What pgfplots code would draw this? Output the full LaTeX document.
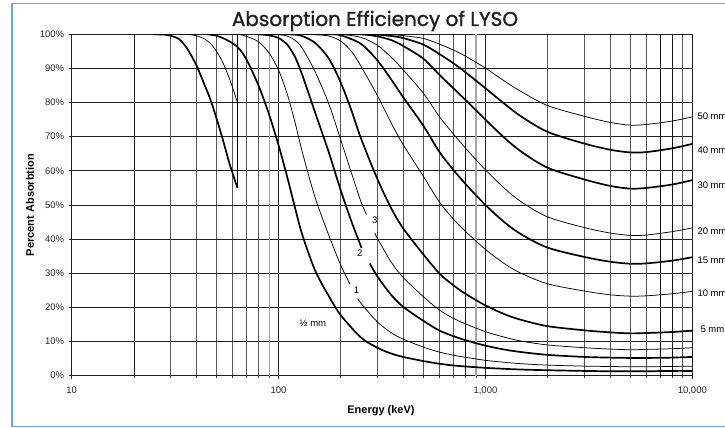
\documentclass[border=0pt]{standalone}
\usepackage{fontspec}
\setmainfont{Liberation Sans}
\newfontfamily\titlefont[FakeBold=1.2]{Poppins}
\usepackage{pgfplots}
\pgfplotsset{compat=1.18}
\definecolor{frameblue}{RGB}{95,170,220}
\begin{document}
\begin{tikzpicture}[x=1pt,y=1pt]
\draw[frameblue, line width=1.3pt] (12,1.2) rectangle (760,424.7);
\begin{axis}[
  at={(71.7pt,52.3pt)}, anchor=south west,
  width=620.6pt, height=341.4pt, scale only axis,
  xmode=log, xmin=10, xmax=10000, ymin=0, ymax=100,
  xtick={10,100,1000,10000}, xticklabels={10,100,{1,000},{10,000}},
  minor xtick={20,30,40,50,60,70,80,90,200,300,400,500,600,700,800,900,2000,3000,4000,5000,6000,7000,8000,9000},
  ytick={0,10,...,100},
  yticklabels={0\%,10\%,20\%,30\%,40\%,50\%,60\%,70\%,80\%,90\%,100\%},
  grid=both,
  major grid style={black!88, line width=0.95pt},
  minor grid style={black!66, line width=0.85pt},
  axis line style={black!88, line width=0.95pt},
  tick align=outside, xtick pos=bottom, ytick pos=left,
  major tick length=3pt, minor tick length=2pt,
  tick style={black!80, line width=0.8pt},
  /pgf/number format/assume math mode=true,
  xticklabel style={font=\fontsize{9.5}{10}\selectfont, yshift=-5pt, text=black!85},
  yticklabel style={font=\fontsize{9.5}{10}\selectfont, xshift=-1pt, text=black!85},
  thickc/.style={black, smooth, tension=0.5, line width=1.7pt},
  thinc/.style={black, smooth, tension=0.5, line width=0.75pt},
]
% lighter / darker grid lines as in the reference
\draw[black!35, line width=1.1pt] (axis cs:90,0) -- (axis cs:90,100);
\draw[black!35, line width=1.1pt] (axis cs:900,0) -- (axis cs:900,100);
\draw[black!92, line width=0.85pt] (axis cs:20,0) -- (axis cs:20,100);
\draw[black!92, line width=0.85pt] (axis cs:800,0) -- (axis cs:800,100);
\draw[black!92, line width=0.85pt] (axis cs:7000,0) -- (axis cs:7000,100);
\draw[black!92, line width=0.85pt] (axis cs:8000,0) -- (axis cs:8000,100);
% 1/2 mm below K edge
\addplot[thickc] coordinates {(25,100)(28,99.9)(30,99.6)(33,98.6)(36,96)(40,91)(44,85)(47.4,80)(53,70.5)(58,62)(63.3,55)};
% K edge
\addplot[black, line width=1.8pt, sharp plot, mark=none] table {
x y
63.3 55
63.3 100
};
% 1 mm below K edge
\addplot[thinc] coordinates {(36,100)(40,99.6)(44,98.6)(48,96.6)(53,92.5)(58,86.9)(63.3,80)};
% 1/2 mm
\addplot[thickc] coordinates {(45,100)(50,99.6)(56,98.4)(63.3,96.3)(70,92.6)(80,85.0)(90,76.5)(100,67.5)(110,58.3)(120,49.3)(130,41.4)(150,30.9)(175,23.3)(200,17.7)(250,11.2)(300,8.2)(350,6.5)(400,5.5)(500,4.3)(600,3.5)(700,3.0)(800,2.7)(1000,2.3)(1250,2.0)(1500,1.8)(2000,1.6)(3000,1.4)(4000,1.3)(5000,1.3)(6000,1.3)(8000,1.4)(10000,1.4)};
% 1 mm
\addplot[thinc] coordinates {(60,100)(65,99.9)(70,99.4)(80,97.8)(90,94.5)(100,89.5)(110,82.6)(120,74.3)(130,65.7)(150,52.3)(175,41.1)(200,32.3)(221,26.9)};
\addplot[thinc] coordinates {(241.5,22.6)(250,21.2)(300,15.8)(350,12.6)(400,10.7)(500,8.4)(600,6.9)(700,6.0)(800,5.4)(1000,4.5)(1250,3.9)(1500,3.5)(2000,3.1)(3000,2.8)(4000,2.7)(5000,2.6)(6000,2.6)(8000,2.7)(10000,2.8)};
% 2 mm
\addplot[thickc] coordinates {(80,100)(90,99.7)(100,98.9)(110,97.0)(120,93.4)(130,88.2)(150,77.2)(175,65.4)(200,54.2)(225,45.2)(252,37.4)};
\addplot[thickc] coordinates {(276,32.9)(300,29.1)(350,23.7)(400,20.2)(500,16.1)(600,13.2)(700,11.6)(800,10.4)(1000,8.8)(1250,7.6)(1500,6.9)(2000,6.1)(3000,5.5)(4000,5.3)(5000,5.2)(6000,5.2)(8000,5.3)(10000,5.5)};
% 3 mm
\addplot[thinc] coordinates {(90,100)(100,99.9)(110,99.5)(120,98.3)(130,96.0)(150,89.1)(175,79.6)(200,69.0)(225,59.4)(250,51.0)(266,47.2)};
\addplot[thinc] coordinates {(292,41.8)(300,40.3)(350,33.3)(400,28.8)(500,23.2)(600,19.2)(700,16.8)(800,15.2)(1000,12.9)(1250,11.2)(1500,10.1)(2000,9.0)(3000,8.2)(4000,7.8)(5000,7.6)(6000,7.7)(8000,7.9)(10000,8.2)};
% 5 mm
\addplot[thickc] coordinates {(100,100)(110,100)(120,99.9)(130,99.5)(150,97.5)(175,92.9)(200,85.8)(225,77.7)(250,69.6)(300,57.7)(350,49.1)(400,43.2)(500,35.6)(600,29.9)(700,26.5)(800,24.0)(1000,20.6)(1250,17.9)(1500,16.3)(2000,14.5)(3000,13.3)(4000,12.7)(5000,12.4)(6000,12.5)(8000,12.8)(10000,13.2)};
% 10 mm
\addplot[thinc] coordinates {(130,100)(150,99.9)(175,99.5)(200,98.0)(225,95.0)(250,90.7)(300,82.1)(350,74.1)(400,67.7)(500,58.5)(600,50.8)(700,45.9)(800,42.3)(1000,37.0)(1250,32.6)(1500,29.9)(2000,26.9)(3000,24.8)(4000,23.7)(5000,23.3)(6000,23.4)(8000,24.0)(10000,24.7)};
% 15 mm
\addplot[thickc] coordinates {(150,100)(175,100)(200,99.7)(250,97.2)(300,92.4)(350,86.8)(400,81.6)(500,73.3)(600,65.5)(700,60.3)(800,56.2)(1000,50.0)(1250,44.7)(1500,41.3)(2000,37.5)(3000,34.8)(4000,33.4)(5000,32.8)(6000,32.9)(8000,33.7)(10000,34.7)};
% 20 mm
\addplot[thinc] coordinates {(175,100)(200,100)(250,99.1)(300,96.8)(350,93.3)(400,89.6)(500,82.8)(600,75.8)(700,70.8)(800,66.7)(1000,60.3)(1250,54.6)(1500,50.8)(2000,46.5)(3000,43.4)(4000,41.8)(5000,41.1)(6000,41.2)(8000,42.2)(10000,43.3)};
% 30 mm
\addplot[thickc] coordinates {(200,100)(250,100)(300,99.4)(350,98.3)(400,96.6)(500,92.9)(600,88.1)(700,84.2)(800,80.8)(1000,75.0)(1250,69.4)(1500,65.5)(2000,60.9)(3000,57.5)(4000,55.6)(5000,54.8)(6000,55.0)(8000,56.0)(10000,57.3)};
% 40 mm
\addplot[thickc] coordinates {(250,100)(300,99.9)(350,99.5)(400,98.9)(500,97.0)(600,94.2)(700,91.5)(800,88.9)(1000,84.2)(1250,79.4)(1500,75.8)(2000,71.4)(3000,68.0)(4000,66.2)(5000,65.4)(6000,65.5)(8000,66.6)(10000,67.9)};
% 50 mm
\addplot[thinc] coordinates {(250,100)(300,100)(350,99.9)(400,99.6)(500,98.8)(600,97.1)(700,95.4)(800,93.6)(1000,90.1)(1250,86.1)(1500,83.1)(2000,79.1)(3000,76.0)(4000,74.2)(5000,73.4)(6000,73.6)(8000,74.6)(10000,75.8)};
\node[font=\fontsize{9.5}{10}\selectfont] at (axis cs:146.6,15.4) {½ mm};
\node[font=\fontsize{9.5}{10}\selectfont] at (axis cs:238,24.9) {1};
\node[font=\fontsize{9.5}{10}\selectfont] at (axis cs:247,35.9) {2};
\node[font=\fontsize{9.5}{10}\selectfont] at (axis cs:292,45.6) {3};
\coordinate (l50) at (rel axis cs:1,0.761);
\coordinate (l40) at (rel axis cs:1,0.661);
\coordinate (l30) at (rel axis cs:1,0.559);
\coordinate (l20) at (rel axis cs:1,0.424);
\coordinate (l15) at (rel axis cs:1,0.339);
\coordinate (l10) at (rel axis cs:1,0.242);
\coordinate (l5) at (rel axis cs:1,0.136);
\end{axis}
\begin{scope}[every node/.style={anchor=west, font=\fontsize{9.5}{10}\selectfont, inner sep=0pt, xshift=5pt}]
\node at (l50) {50 mm};
\node at (l40) {40 mm};
\node at (l30) {30 mm};
\node at (l20) {20 mm};
\node at (l15) {15 mm};
\node at (l10) {10 mm};
\node[xshift=3pt] at (l5) {5 mm};
\end{scope}
\node[anchor=base, text=black!88, font=\titlefont\fontsize{20}{22}\selectfont] at (375,402) {Absorption Efficiency of LYSO};
\node[font=\bfseries\fontsize{11}{13}\selectfont] at (381,17) {Energy (keV)};
\node[rotate=90, font=\bfseries\fontsize{11}{13}\selectfont] at (30,223) {Percent Absorbtion};
\pgfresetboundingbox
\useasboundingbox (0,0) rectangle (725,428);
\end{tikzpicture}
\end{document}
